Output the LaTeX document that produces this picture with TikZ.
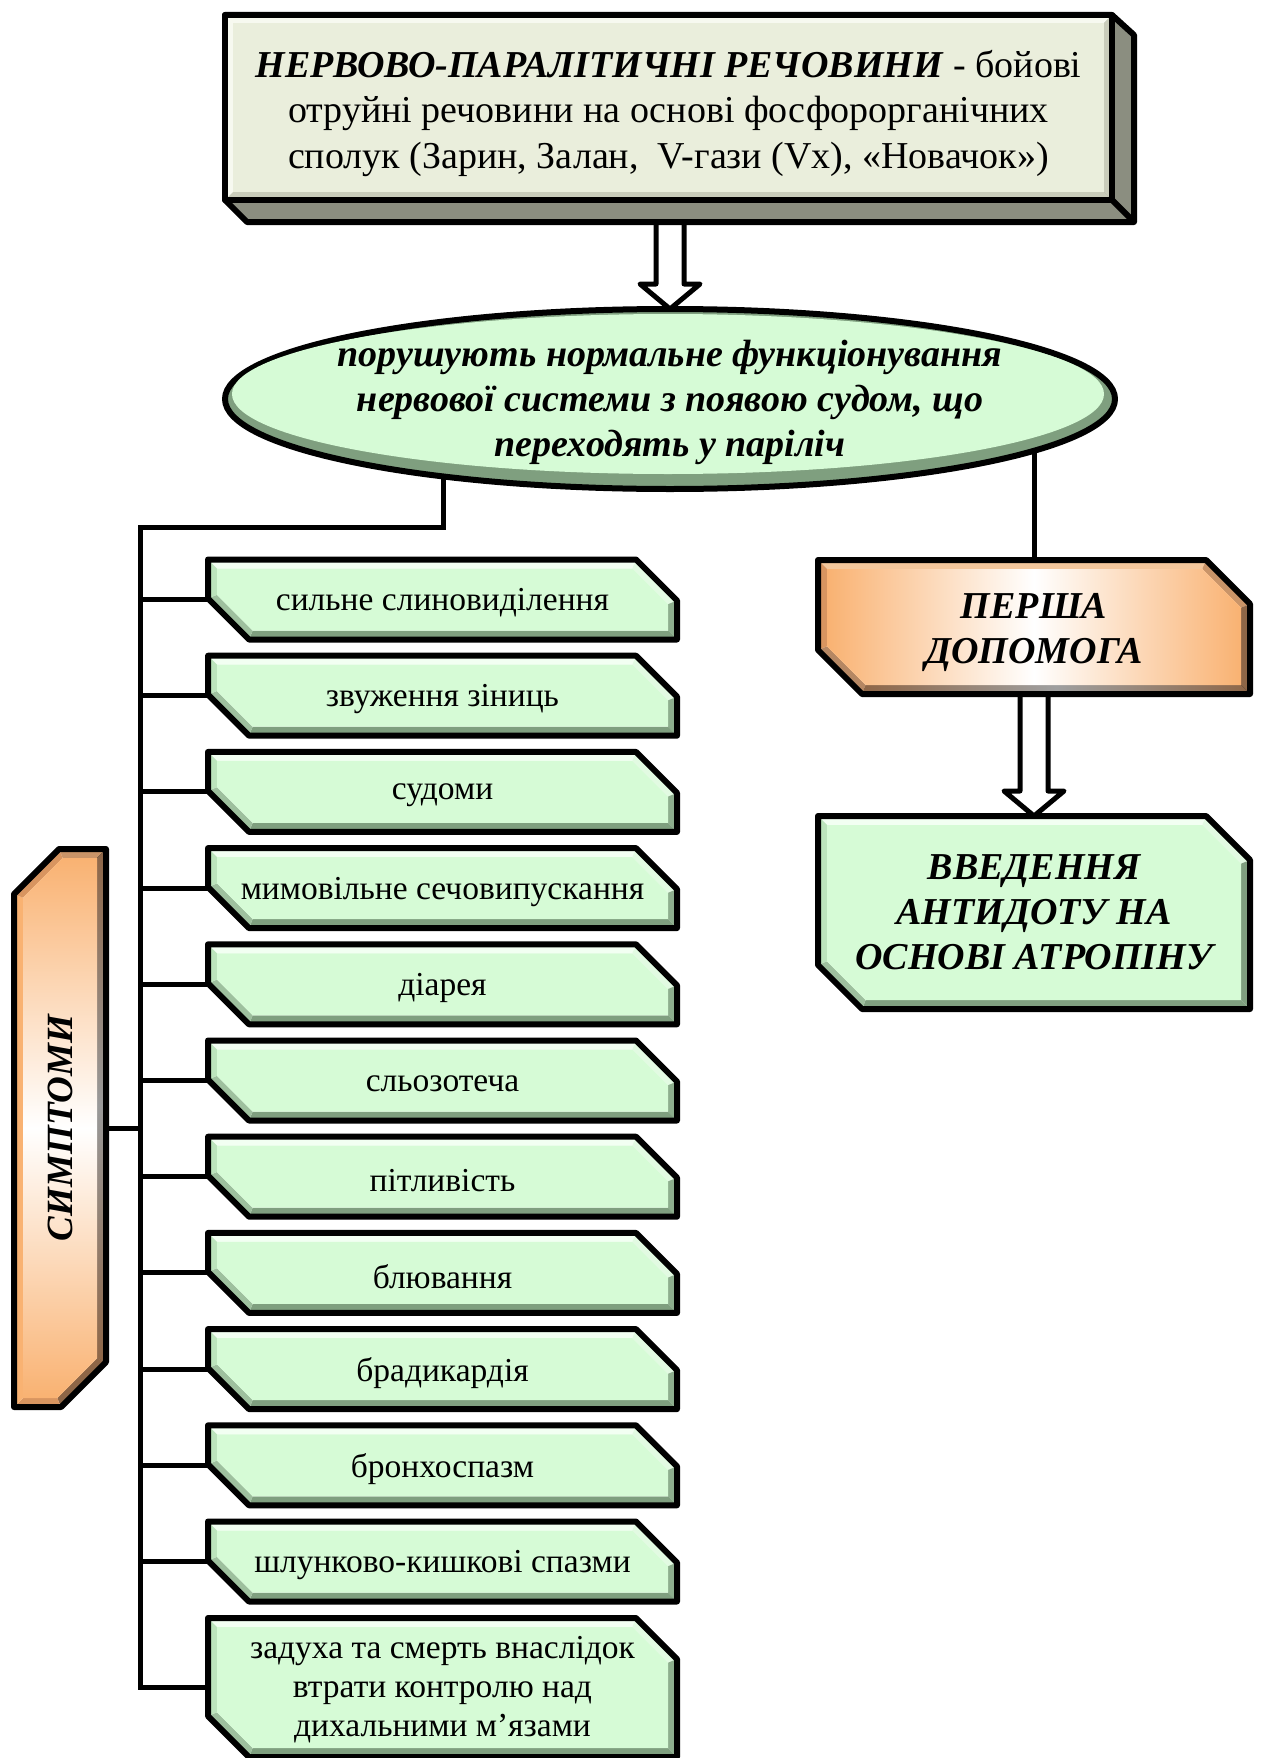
\documentclass[tikz,border=0pt]{standalone}
\usepackage{fontspec}
\setmainfont{Liberation Serif}
\usetikzlibrary{calc,shapes.geometric}
\pgfdeclarelayer{bg}
\pgfdeclarelayer{shp}
\pgfsetlayers{bg,shp,main}
\definecolor{gbase}{HTML}{D6FBD6}
\definecolor{gtop}{HTML}{F2FFF2}
\definecolor{gtr}{HTML}{E2FAE2}
\definecolor{gright}{HTML}{8DAE8D}
\definecolor{gbot}{HTML}{7F9F7F}
\definecolor{gbl}{HTML}{9EC09E}
\definecolor{gleft}{HTML}{BCE4BC}
\definecolor{obase}{HTML}{F9B272}
\definecolor{otop}{HTML}{F3C79C}
\definecolor{otr}{HTML}{C99468}
\definecolor{oright}{HTML}{8E6647}
\definecolor{obl}{HTML}{B58763}
\definecolor{oleft}{HTML}{D89560}
\definecolor{cbase}{HTML}{EAEEDC}
\definecolor{cside}{HTML}{8B8E80}
\definecolor{cdark}{HTML}{C9CCBA}
\definecolor{clight}{HTML}{F7F9F0}
% bevelled hexagon: cut at top-right and bottom-left
\newcommand\bevhex[9]{%
\begin{pgfonlayer}{shp}
\coordinate (PA) at (#1.north west);
\coordinate (PB) at ($(#1.north east)+(-#2,0)$);
\coordinate (PC) at ($(#1.north east)+(0,#2)$);
\coordinate (PD) at (#1.south east);
\coordinate (PE) at ($(#1.south west)+(#2,0)$);
\coordinate (PF) at ($(#1.south west)+(0,-#2)$);
\coordinate (QA) at ($(PA)+(9,9)$);
\coordinate (QB) at ($(PB)+(-3.7,9)$);
\coordinate (QC) at ($(PC)+(-9,3.7)$);
\coordinate (QD) at ($(PD)+(-9,-9)$);
\coordinate (QE) at ($(PE)+(3.7,-9)$);
\coordinate (QF) at ($(PF)+(9,-3.7)$);
\fill[#4] (PA)--(PB)--(QB)--(QA)--cycle;
\fill[#5] (PB)--(PC)--(QC)--(QB)--cycle;
\fill[#6] (PC)--(PD)--(QD)--(QC)--cycle;
\fill[#7] (PD)--(PE)--(QE)--(QD)--cycle;
\fill[#8] (PE)--(PF)--(QF)--(QE)--cycle;
\fill[#9] (PF)--(PA)--(QA)--(QF)--cycle;
\path[#3] (QA)--(QB)--(QC)--(QD)--(QE)--(QF)--cycle;
\draw[outl] (PA)--(PB)--(PC)--(PD)--(PE)--(PF)--cycle;
\end{pgfonlayer}}
\newcommand\openarrow[2]{%
\begin{pgfonlayer}{bg}
\draw[arrowline] let \p1=(#1), \p2=(#2) in
 (\x2-14pt,\y1) -- (\x2-14pt,\y2+25pt) -- (\x2-30pt,\y2+25pt) -- (\x2,\y2)
 -- (\x2+30pt,\y2+25pt) -- (\x2+14pt,\y2+25pt) -- (\x2+14pt,\y1);
\end{pgfonlayer}}
\begin{document}
\begin{tikzpicture}[x=1pt,y=-1pt,
  conn/.style={line width=5pt,line join=miter},
  outl/.style={draw=black,line width=6pt,line join=round},
  arrowline/.style={draw=black,fill=white,line width=5pt,line join=round},
  boxframe/.style={inner sep=0pt,outer sep=0pt},
  symnode/.style={boxframe,minimum width=469pt,minimum height=80pt,align=center,font=\fontsize{33.5}{39}\selectfont},
  symtext/.style={align=center,font=\fontsize{33.5}{39}\selectfont,yshift=-3.5pt},
  bigcaps/.style={align=center,font=\fontsize{38}{45}\selectfont\bfseries\itshape}]
\begin{pgfonlayer}{bg}
\fill[white] (0,0) rectangle (1261,1758);
\end{pgfonlayer}
\useasboundingbox (0,0) rectangle (1261,1758);

% ---------- top box ----------
\node[boxframe,minimum width=887pt,minimum height=185pt] (top) at (668.5,107.5) {};
\node[align=center,font=\fontsize{38}{45.5}\selectfont,yshift=-5.5pt] (topt) at (top.center)
 {\textbf{\textit{НЕРВОВО-ПАРАЛІТИЧНІ РЕЧОВИНИ}} - бойові\\отруйні речовини на основі фосфорорганічних\\сполук (Зарин, Залан, \ V-гази (Vx), «Новачок»)};
\begin{pgfonlayer}{shp}
\fill[cside] (top.north east) -- ++(22,20) -- ($(top.south east)+(22,22)$) -- ($(top.south west)+(22,22)$) -- (top.south west) -- cycle;
\draw[outl] (top.north west) -- (top.north east) -- ++(22,20) -- ($(top.south east)+(22,22)$) -- ($(top.south west)+(22,22)$) -- (top.south west) -- cycle;
\draw[outl] (top.south east) -- ++(22,22);
\fill[clight] (top.north west) -- (top.north east) -- ($(top.north east)+(-8,8)$) -- ($(top.north west)+(8,8)$) -- cycle;
\fill[clight] (top.north west) -- (top.south west) -- ($(top.south west)+(8,-8)$) -- ($(top.north west)+(8,8)$) -- cycle;
\fill[cdark] (top.south east) -- (top.north east) -- ($(top.north east)+(-8,8)$) -- ($(top.south east)+(-8,-8)$) -- cycle;
\fill[cdark] (top.south east) -- (top.south west) -- ($(top.south west)+(8,-8)$) -- ($(top.south east)+(-8,-8)$) -- cycle;
\fill[cbase] ($(top.north west)+(8,8)$) rectangle ($(top.south east)+(-8,-8)$);
\draw[outl] (top.north west) rectangle (top.south east);
\end{pgfonlayer}

% ---------- ellipse ----------
\begin{pgfonlayer}{shp}
\node[ellipse,boxframe,outl,fill=gbot,minimum width=890pt,minimum height=180pt] (ell) at (670,399) {};
\fill[gbase] ($(ell.center)+(-2,-5)$) ellipse [x radius=436, y radius=80];
\end{pgfonlayer}
\node[align=center,font=\fontsize{38}{45}\selectfont\bfseries\itshape,yshift=-3.5pt] (ellt) at (ell.center)
 {порушують нормальне функціонування\\нервової системи з появою судом, що\\переходять у паріліч};

% ---------- first aid ----------
\node[boxframe,minimum width=432pt,minimum height=134pt] (pd) at (1034,627) {};
\node[bigcaps,yshift=-5.5pt] (pdt) at (pd.center) {ПЕРША\\ДОПОМОГА};
\bevhex{pd}{44}{left color=obase,right color=obase,middle color=white}{otop}{otr}{oright}{left color=oright,right color=oright,middle color=gray!75}{obl}{oleft}
\node[boxframe,minimum width=432pt,minimum height=193pt,bigcaps] (vv) at (1034,912.5) {ВВЕДЕННЯ\\АНТИДОТУ НА\\ОСНОВІ АТРОПІНУ};
\bevhex{vv}{44}{fill=gbase}{gtop}{gtr}{gbot}{gbot}{gbl}{gleft}

% ---------- symptoms ----------
\foreach \i/\t in {1/сильне слиновиділення,2/звуження зіниць,3/судоми,4/мимовільне сечовипускання,5/діарея,6/сльозотеча,7/пітливість,8/блювання,9/брадикардія,10/бронхоспазм,11/шлунково-кишкові спазми}
  {\node[symnode] (s\i) at (442.5,{599.5+96.2*(\i-1)}) {};
   \node[symtext] (st\i) at (s\i.center) {\t};}
\node[symnode,minimum height=139pt] (s12) at (442.5,1687.5) {};
\node[symtext,yshift=1pt] (st12) at (s12.center) {задуха та смерть внаслідок\\втрати контролю над\\дихальними м’язами};
\foreach \i in {1,...,12} {\bevhex{s\i}{41}{fill=gbase}{gtop}{gtr}{gright}{gbot}{gbl}{gleft}}

% ---------- symptoms label ----------
\node[boxframe,minimum width=92pt,minimum height=558pt] (sym) at (60,1128) {};
\begin{pgfonlayer}{shp}
\coordinate (RA) at ($(sym.north west)+(45,0)$);
\coordinate (RB) at (sym.north east);
\coordinate (RC) at ($(sym.south east)+(0,-45)$);
\coordinate (RD) at ($(sym.south east)+(-45,0)$);
\coordinate (RE) at (sym.south west);
\coordinate (RF) at ($(sym.north west)+(0,45)$);
\coordinate (TA) at ($(RA)+(3.7,9)$);
\coordinate (TB) at ($(RB)+(-9,9)$);
\coordinate (TC) at ($(RC)+(-9,-3.7)$);
\coordinate (TD) at ($(RD)+(-3.7,-9)$);
\coordinate (TE) at ($(RE)+(9,-9)$);
\coordinate (TF) at ($(RF)+(9,3.7)$);
\fill[otr] (RA)--(RB)--(TB)--(TA)--cycle;
\fill[top color=oright,bottom color=oright,middle color=gray!80] (RB)--(RC)--(TC)--(TB)--cycle;
\fill[oright] (RC)--(RD)--(TD)--(TC)--cycle;
\fill[oleft] (RD)--(RE)--(TE)--(TD)--cycle;
\fill[obase] (RE)--(RF)--(TF)--(TE)--cycle;
\fill[oleft] (RF)--(RA)--(TA)--(TF)--cycle;
\path[top color=obase,bottom color=obase,middle color=white] (TA)--(TB)--(TC)--(TD)--(TE)--(TF)--cycle;
\draw[outl] (RA)--(RB)--(RC)--(RD)--(RE)--(RF)--cycle;
\end{pgfonlayer}
\node[rotate=90,font=\fontsize{37}{45}\selectfont\bfseries\itshape] (symt) at (sym.center) {СИМПТОМИ};

% ---------- connectors ----------
\coordinate (j1) at (443,527);
\coordinate (tr) at (140,527);
\begin{pgfonlayer}{bg}
\draw[conn] (j1 |- ell.center) -- (j1) -- (tr) |- (s12.west);
\foreach \i in {1,...,11} {\draw[conn] (tr |- s\i.west) -- (s\i.west);}
\draw[conn] (sym.east) -- (sym.east -| tr);
\draw[conn] (pd.north |- ell.center) -- (pd.north);
\end{pgfonlayer}
\openarrow{top.south}{ell.north}
\openarrow{pd.south}{vv.north}
\end{tikzpicture}
\end{document}
